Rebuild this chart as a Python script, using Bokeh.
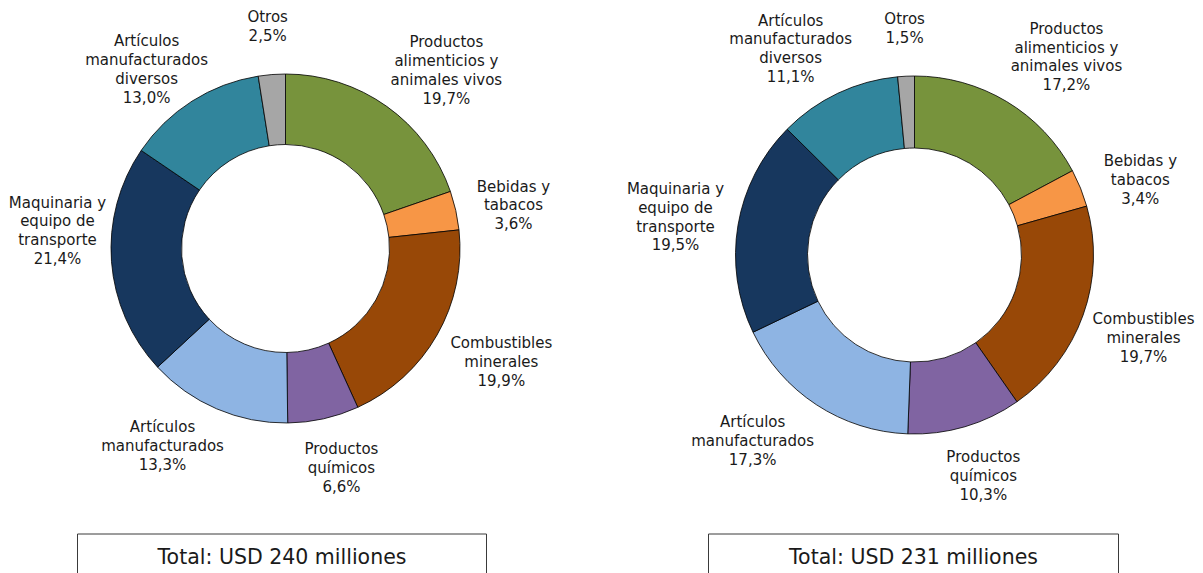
import numpy as np
from bokeh.plotting import figure
from bokeh.models import Range1d, ColumnDataSource
from bokeh.core.properties import value
from bokeh.embed import file_html
from bokeh.resources import INLINE

# ---------------- data ----------------
categories = [
    "Productos\nalimenticios y\nanimales vivos",
    "Bebidas y\ntabacos",
    "Combustibles\nminerales",
    "Productos\nquímicos",
    "Artículos\nmanufacturados",
    "Maquinaria y\nequipo de\ntransporte",
    "Artículos\nmanufacturados\ndiversos",
    "Otros",
]
left_values = [19.7, 3.6, 19.9, 6.6, 13.3, 21.4, 13.0, 2.5]
right_values = [17.2, 3.4, 19.7, 10.3, 17.3, 19.5, 11.1, 1.5]
totals = ["Total: USD 240 milliones", "Total: USD 231 milliones"]

# ---------------- styles / layout ----------------
colors = ["#77933C", "#F79646", "#984807", "#8064A2",
          "#8EB4E3", "#17375E", "#31859C", "#A6A6A6"]
FONT = "DejaVu Sans"
TEXT_COLOR = "#1a1a1a"

W, H = 1203, 573
# data coords: x == screen x, y == 573 - screen y
def sy(screen_y):
    return 573 - screen_y

donuts = [
    dict(values=left_values, cx=285, cy=sy(248), R=174.5, r=104,
         lab_ang=[42.1, 79.3, 117.8, 165.7, 211.9, 274.4, 322.2, 355.4],
         lab_dist=[240, 232, 244, 226.5, 232.7, 228.7, 226.6, 222.7],
         box=(77, 486), total=totals[0]),
    dict(values=right_values, cx=914, cy=sy(254.5), R=179, r=107,
         lab_ang=[37.5, 71.6, 109.9, 162.7, 221.0, 279.0, 329.0, 357.5],
         lab_dist=[249.6, 238, 243.6, 231.5, 246.7, 242, 240.4, 226.7],
         box=(708, 1118), total=totals[1]),
]

p = figure(width=W, height=H, output_backend="svg", toolbar_location=None,
           x_range=Range1d(0, W), y_range=Range1d(573 - H, 573),
           x_axis_type=None, y_axis_type=None, min_border=0)
p.outline_line_color = None
p.grid.visible = False
p.background_fill_color = "white"
p.border_fill_color = "white"

for d in donuts:
    vals = np.array(d["values"], dtype=float)
    frac = vals / vals.sum()
    c1 = np.cumsum(frac)
    c0 = c1 - frac
    start = np.pi / 2 - 2 * np.pi * c0
    end = np.pi / 2 - 2 * np.pi * c1
    src = ColumnDataSource(dict(start=start, end=end, color=colors))
    p.annular_wedge(x=d["cx"], y=d["cy"], inner_radius=d["r"], outer_radius=d["R"],
                    start_angle="start", end_angle="end", direction="clock",
                    fill_color="color", line_color="black", line_width=0.8,
                    source=src)

    ang = np.radians(np.array(d["lab_ang"]))
    dist = np.array(d["lab_dist"])
    lx = d["cx"] + dist * np.sin(ang)
    ly = d["cy"] + dist * np.cos(ang)
    texts = [f"{c}\n{v:.1f}%".replace(".", ",") for c, v in zip(categories, d["values"])]
    lsrc = ColumnDataSource(dict(x=lx, y=ly, t=texts))
    p.text(x="x", y="y", text="t", source=lsrc, text_align="center",
           text_baseline="middle", text_font=value(FONT), text_font_size="15px",
           text_line_height=1.05, text_color=TEXT_COLOR)

    bx0, bx1 = d["box"]
    p.quad(left=bx0, right=bx1, top=sy(533.5), bottom=sy(640),
           fill_color=None, line_color="#3a3a3a", line_width=1)
    p.text(x=[(bx0 + bx1) / 2], y=[sy(556)], text=[d["total"]], text_align="center",
           text_baseline="middle", text_font=value(FONT), text_font_size="20.5px",
           text_color=TEXT_COLOR)

open("out.html", "w").write(file_html(p, INLINE))
